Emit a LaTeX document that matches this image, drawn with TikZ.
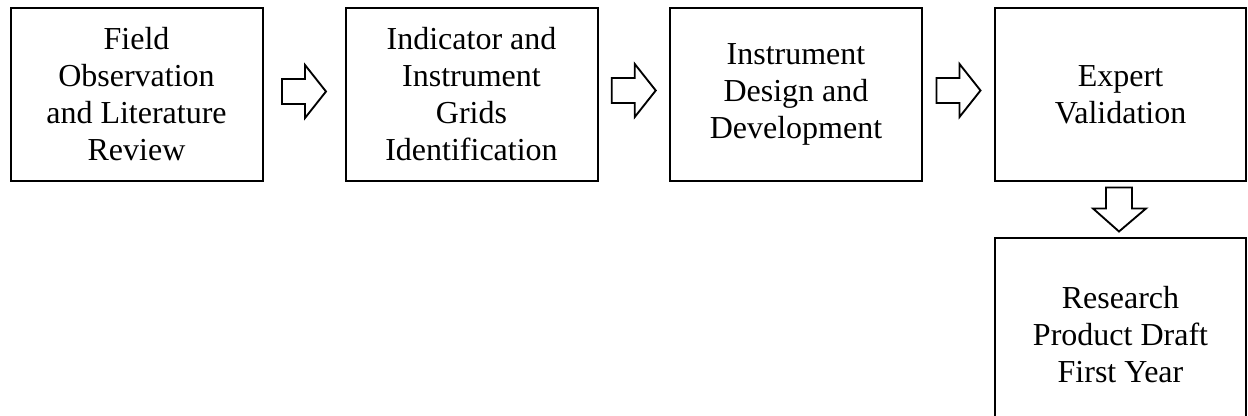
\documentclass[tikz,border=0pt]{standalone}
\usepackage{fontspec}
\setmainfont{Liberation Serif}
\usetikzlibrary{calc}
\begin{document}
\begin{tikzpicture}[x=0.75pt,y=-0.75pt,
  box/.style={draw=black,line width=1.5pt,inner sep=0pt,align=center,
    font=\fontsize{24pt}{27.75pt}\selectfont,
    minimum width=189pt,minimum height=129.75pt},
  blockarrow/.style={draw=black,line width=1.4pt,fill=white,line join=miter}]
\useasboundingbox (0,0) rectangle (1248,416);
\node[box] (b1) at (136.5,94.5) {Field\\Observation\\and Literature\\Review};
\node[box] (b2) at (471.5,94.5) {Indicator and\\Instrument\\Grids\\Identification};
\node[box] (b3) at (796,94.5) {Instrument\\Design and\\Development};
\node[box,minimum width=188.25pt] (b4) at (1120.5,94.5) {Expert\\Validation};
\node[box,minimum width=188.25pt,minimum height=145.5pt] (b5) at (1120.5,335) {Research\\Product Draft\\First Year};
% right block arrows
\coordinate (a1) at ($(b1.east)!0.5!(b2.west)+(0,-3)$);
\coordinate (a2) at ($(b2.east)!0.5!(b3.west)+(0,-4)$);
\coordinate (a3) at ($(b3.east)!0.5!(b4.west)+(0,-4)$);
\foreach \c in {a1,a2,a3}{
  \draw[blockarrow] (\c) ++(-22,-12.5) -- ++(23,0) -- ++(0,-14) -- ++(21,26.5)
    -- ++(-21,26.5) -- ++(0,-14) -- ++(-23,0) -- cycle;
}
% down block arrow
\coordinate (a4) at ($(b4.south)!0.5!(b5.north)+(-1.5,0)$);
\draw[blockarrow] (a4) ++(-13,-22) -- ++(26,0) -- ++(0,21) -- ++(14,0)
  -- ++(-27,23) -- ++(-26,-23) -- ++(13,0) -- cycle;
\end{tikzpicture}
\end{document}
